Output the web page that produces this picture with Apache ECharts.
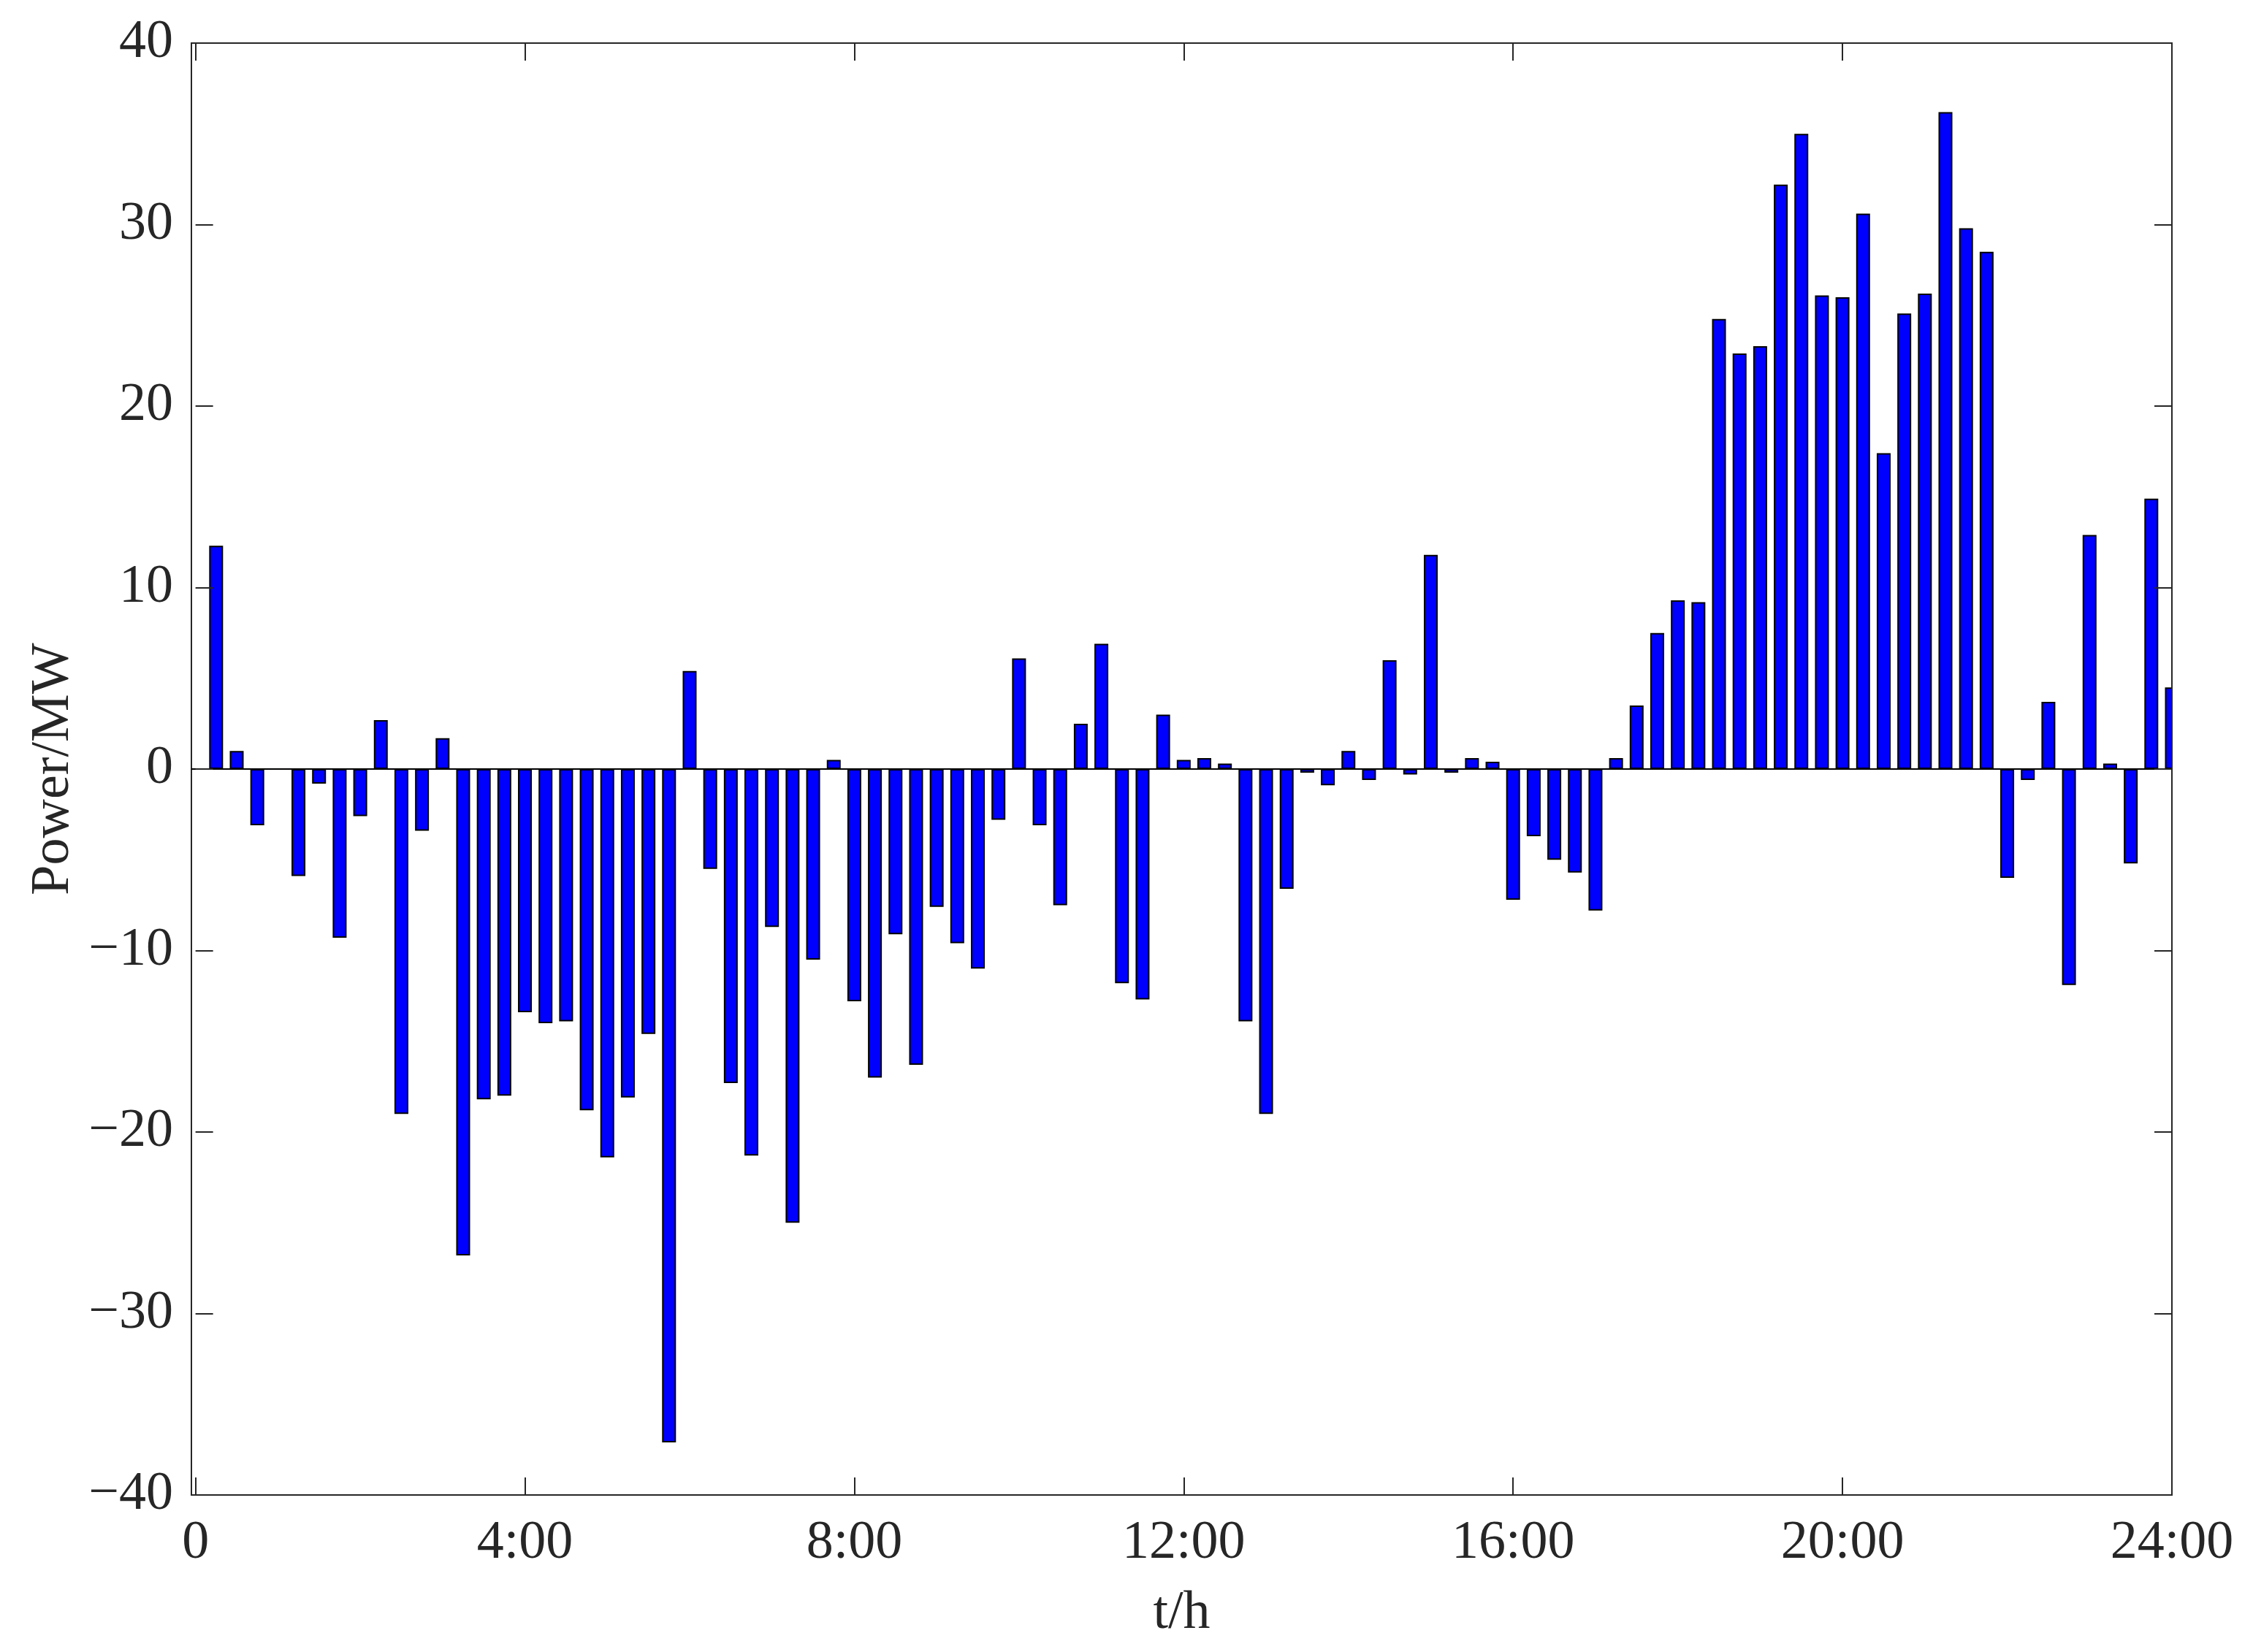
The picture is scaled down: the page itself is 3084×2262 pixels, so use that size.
<!DOCTYPE html>
<html>
<head>
<meta charset="utf-8">
<script src="https://cdn.jsdelivr.net/npm/echarts@6/dist/echarts.min.js"></script>
<style>
  html, body { margin: 0; padding: 0; background: #fff; }
  #chart { width: 3084px; height: 2262px; }
</style>
</head>
<body>
<div id="chart"></div>
<script>
// power at each 15-minute step (MW), 0:15 .. 24:00
const power = [
  12.3, 1.0, -3.1, 0.0, -5.9, -0.8, -9.3, -2.6, 2.7, -19.0, -3.4, 1.7,
  -26.8, -18.2, -18.0, -13.4, -14.0, -13.9, -18.8, -21.4, -18.1, -14.6, -37.1, 5.4,
  -5.5, -17.3, -21.3, -8.7, -25.0, -10.5, 0.5, -12.8, -17.0, -9.1, -16.3, -7.6,
  -9.6, -11.0, -2.8, 6.1, -3.1, -7.5, 2.5, 6.9, -11.8, -12.7, 3.0, 0.5,
  0.6, 0.3, -13.9, -19.0, -6.6, -0.2, -0.9, 1.0, -0.6, 6.0, -0.3, 11.8,
  -0.2, 0.6, 0.4, -7.2, -3.7, -5.0, -5.7, -7.8, 0.6, 3.5, 7.5, 9.3,
  9.2, 24.8, 22.9, 23.3, 32.2, 35.0, 26.1, 26.0, 30.6, 17.4, 25.1, 26.2,
  36.2, 29.8, 28.5, -6.0, -0.6, 3.7, -11.9, 12.9, 0.3, -5.2, 14.9, 4.5
];
// bar positions on the hour axis (15-minute steps)
const times = power.map((v, i) => (i + 1) / 4);
const xTicks = [0, 4, 8, 12, 16, 20, 24];

const axisColor = "#262626";
const fontFamily = "'Liberation Serif', 'Times New Roman', serif";

// plot box (px)
const plotLeft = 262;
const plotTop = 59;
const plotWidth = 2711;
const plotHeight = 1988;

const chart = echarts.init(document.getElementById("chart"));

const hourLabel = (v) => (v === 0 ? "0" : v + ":00");
const minus = (v) => String(v).replace("-", "\u2212");

const tickStyle = {
  show: true,
  inside: true,
  length: 24,
  lineStyle: { color: axisColor, width: 2 },
};

const option = {
  backgroundColor: "#fff",
  animation: false,
  grid: {
    left: plotLeft,
    top: plotTop,
    width: plotWidth,
    height: plotHeight,
    show: true,
    borderColor: axisColor,
    borderWidth: 2,
    backgroundColor: "#fff",
    outerBoundsMode: "none",
  },
  // bars on a value axis are not clipped at the edge, so mask the overflow on the right
  graphic: [
    {
      type: "rect",
      z: 5,
      silent: true,
      shape: { x: plotLeft + plotWidth + 1, y: plotTop - 2, width: 60, height: plotHeight + 4 },
      style: { fill: "#fff" },
    },
  ],
  xAxis: [
    {
      type: "value",
      min: -0.05,
      max: 24,
      position: "bottom",
      z: 10,
      name: "t/h",
      nameLocation: "middle",
      nameGap: 126,
      nameTextStyle: { fontFamily, fontSize: 74, color: axisColor },
      axisLine: { show: false, onZero: false },
      axisTick: Object.assign({ customValues: xTicks }, tickStyle),
      axisLabel: {
        customValues: xTicks,
        formatter: hourLabel,
        fontFamily,
        fontSize: 74,
        color: axisColor,
        margin: 30,
        showMinLabel: true,
        showMaxLabel: true,
      },
      splitLine: { show: false },
    },
    {
      type: "value",
      min: -0.05,
      max: 24,
      position: "top",
      z: 10,
      axisLine: { show: false, onZero: false },
      axisTick: Object.assign({ customValues: xTicks }, tickStyle),
      axisLabel: { show: false },
      splitLine: { show: false },
    },
  ],
  yAxis: [
    {
      type: "value",
      min: -40,
      max: 40,
      interval: 10,
      position: "left",
      z: 10,
      name: "Power/MW",
      nameLocation: "middle",
      nameGap: 146,
      nameRotate: 90,
      nameTextStyle: { fontFamily, fontSize: 74, color: axisColor },
      axisLine: { show: false },
      axisTick: tickStyle,
      axisLabel: {
        formatter: minus,
        fontFamily,
        fontSize: 74,
        color: axisColor,
        margin: 25,
      },
      splitLine: { show: false },
    },
    {
      type: "value",
      min: -40,
      max: 40,
      interval: 10,
      position: "right",
      z: 10,
      axisLine: { show: true, onZero: false, lineStyle: { color: axisColor, width: 2 } },
      axisTick: tickStyle,
      axisLabel: { show: false },
      splitLine: { show: false },
    },
  ],
  series: [
    {
      type: "bar",
      xAxisIndex: 0,
      yAxisIndex: 0,
      data: times.map((t, i) => [t, power[i]]),
      barWidth: 19,
      clip: true,
      itemStyle: {
        color: "#0000ff",
        borderColor: "#000",
        borderWidth: 2,
      },
      markLine: {
        silent: true,
        symbol: "none",
        label: { show: false },
        lineStyle: { color: "#000", width: 2, type: "solid" },
        data: [{ yAxis: 0 }],
      },
    },
  ],
};

chart.setOption(option);
</script>
</body>
</html>
